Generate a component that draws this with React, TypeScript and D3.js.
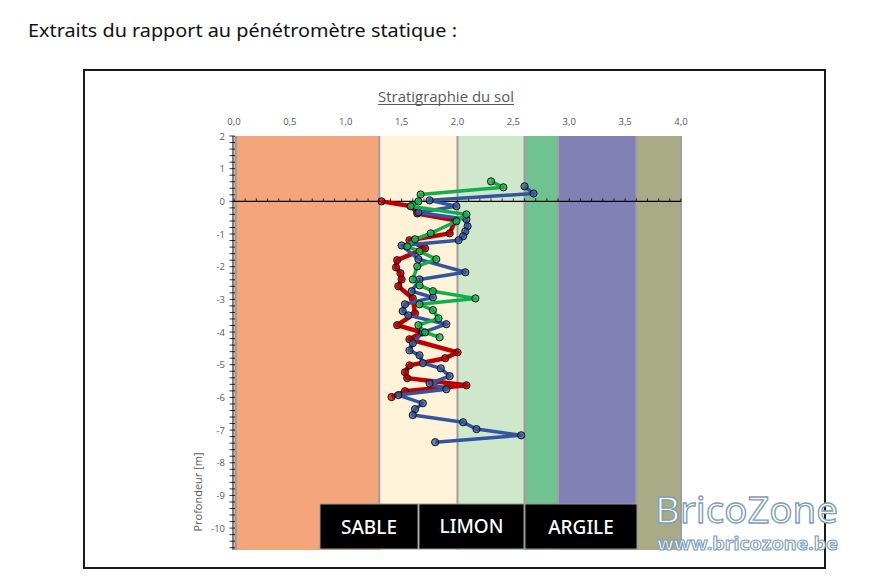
import React from "react";
import * as d3 from "d3";

const xTicks = [0, 0.5, 1, 1.5, 2, 2.5, 3, 3.5, 4];
const yTicks = [2, 1, 0, -1, -2, -3, -4, -5, -6, -7, -8, -9, -10];

const bandEdges = [0, 1.3, 2.0, 2.6, 2.9, 3.6, 4.0];
const bandColors = ["#F4A57B", "#FEF2D8", "#CFE8CC", "#70C291", "#8181B6", "#A8AB85"];

const soilLabels = ["SABLE", "LIMON", "ARGILE"];

const greenX = [2.30, 2.41, 1.67, 1.65, 1.58, 2.08, 1.99, 1.76, 1.62, 1.55, 1.66, 1.81, 1.64, 1.60, 1.66, 1.78, 2.16, 1.66, 1.78, 1.83, 1.65, 1.71, 1.84];
const greenY = [0.61, 0.43, 0.21, 0.0, -0.15, -0.40, -0.61, -0.98, -1.16, -1.38, -1.53, -1.77, -1.99, -2.39, -2.57, -2.75, -2.97, -3.15, -3.33, -3.58, -3.79, -4.01, -4.16];

const blueX = [2.60, 2.68, 1.75, 1.99, 1.65, 2.08, 2.09, 2.07, 2.05, 2.01, 1.50, 1.65, 2.07, 1.66, 1.59, 1.78, 1.53, 1.51, 1.56, 1.90, 1.69, 1.60, 1.57, 1.66, 1.69, 1.85, 1.93, 1.75, 1.90, 1.47, 1.69, 1.62, 1.60, 2.05, 2.17, 2.57, 1.80];
const blueY = [0.46, 0.24, 0.03, -0.15, -0.34, -0.55, -0.76, -0.92, -1.07, -1.19, -1.35, -1.77, -2.17, -2.39, -2.75, -2.94, -3.15, -3.36, -3.49, -3.76, -4.01, -4.34, -4.56, -4.71, -4.95, -5.11, -5.35, -5.57, -5.75, -5.93, -6.18, -6.36, -6.54, -6.76, -6.97, -7.16, -7.37];

const redX = [1.32, 1.59, 1.64, 1.98, 1.93, 1.57, 1.71, 1.46, 1.45, 1.49, 1.50, 1.47, 1.60, 1.62, 1.46, 1.68, 1.57, 2.00, 1.89, 1.57, 1.53, 1.55, 2.08, 1.53, 1.41];
const redY = [0.0, -0.15, -0.37, -0.58, -0.98, -1.19, -1.44, -1.80, -2.02, -2.20, -2.39, -2.60, -2.97, -3.43, -3.79, -4.01, -4.22, -4.62, -4.80, -5.02, -5.23, -5.41, -5.63, -5.81, -5.99];

const series = [
  { name: "red", color: "#C00000", xs: redX, ys: redY, width: 4.5 },
  { name: "blue", color: "#3255A0", xs: blueX, ys: blueY, width: 3.5 },
  { name: "green", color: "#12AE4E", xs: greenX, ys: greenY, width: 3.5 },
];

export default function App() {
  const x = d3.scaleLinear().domain([0, 4]).range([234, 681]);
  const y = d3.scaleLinear().domain([2, -10.67]).range([136, 550]);
  const line = d3
    .line<[number, number]>()
    .x((d) => x(d[0]))
    .y((d) => y(d[1]));

  const minorY = d3.range(10, -54, -1).map((v) => v / 5);
  const minorX = d3.range(0, 41, 1).map((v) => v / 10);

  const labelBoxes = [
    { x0: 320, x1: 418 },
    { x0: 419, x1: 524 },
    { x0: 525, x1: 637 },
  ];

  return (
    <svg
      width={891}
      height={588}
      style={{ position: "absolute", left: 0, top: 0, background: "#fff" }}
    >
      <text x={28} y={37} fontFamily="'Noto Sans', sans-serif" fontSize={18.5} fill="#111" textLength={429} lengthAdjust="spacingAndGlyphs">
        Extraits du rapport au pénétromètre statique :
      </text>

      <rect x={84} y={70} width={741} height={498} fill="#fff" stroke="#1a1a1a" strokeWidth={2} />

      <text x={446} y={102} textAnchor="middle" fontFamily="'Open Sans', sans-serif" fontSize={14} fill="#595959" textLength={136} lengthAdjust="spacingAndGlyphs">
        Stratigraphie du sol
      </text>
      <line x1={378} x2={514} y1={104.5} y2={104.5} stroke="#595959" strokeWidth={1} />

      {xTicks.map((t) => (
        <text key={t} x={x(t)} y={125} textAnchor="middle" fontFamily="'Open Sans', sans-serif" fontSize={9.5} fill="#595959">
          {t.toFixed(1).replace(".", ",")}
        </text>
      ))}

      {bandColors.map((c, i) => (
        <rect
          key={i}
          x={x(bandEdges[i])}
          y={y(2)}
          width={x(bandEdges[i + 1]) - x(bandEdges[i])}
          height={y(-10.67) - y(2)}
          fill={c}
        />
      ))}
      {bandEdges.map((e, i) => (
        <line key={i} x1={x(e) + (i === 0 ? 2 : 0)} x2={x(e) + (i === 0 ? 2 : 0)} y1={y(2)} y2={y(-10.67)} stroke="#9E9E9E" strokeWidth={2} />
      ))}

      {/* y axis */}
      <line x1={233} x2={233} y1={y(2)} y2={y(-10.67)} stroke="#000" strokeWidth={1} />
      {minorY.map((v, i) => (
        <line key={i} x1={229.5} x2={235} y1={y(v)} y2={y(v)} stroke="#000" strokeWidth={0.8} />
      ))}
      {yTicks.map((t) => (
        <text key={t} x={225} y={y(t) + 3.5} textAnchor="end" fontFamily="'Open Sans', sans-serif" fontSize={9.5} fill="#595959">
          {t}
        </text>
      ))}
      <text
        transform={`translate(202,492) rotate(-90)`}
        textAnchor="middle"
        fontFamily="'Open Sans', sans-serif"
        fontSize={11}
        fill="#595959"
      >
        Profondeur [m]
      </text>

      {/* x axis at 0 */}
      <line x1={233} x2={x(4)} y1={y(0)} y2={y(0)} stroke="#000" strokeWidth={1.2} />
      {minorX.map((v, i) => (
        <line key={i} x1={x(v)} x2={x(v)} y1={y(0) - 3} y2={y(0)} stroke="#000" strokeWidth={0.8} />
      ))}

      {series.map((s) => {
        const pts = s.xs.map((v, i) => [v, s.ys[i]] as [number, number]);
        return (
          <g key={s.name}>
            <path d={line(pts) || ""} fill="none" stroke={s.color} strokeWidth={s.width} strokeLinejoin="round" />
            {pts.map((p, i) => (
              <circle key={i} cx={x(p[0])} cy={y(p[1])} r={3.6} fill={s.color} fillOpacity={0.7} stroke="#111" strokeWidth={1} />
            ))}
          </g>
        );
      })}

      {labelBoxes.map((b, i) => (
        <g key={i}>
          <rect x={b.x0} y={504} width={b.x1 - b.x0} height={45} fill="#000" stroke="#9a9a9a" strokeWidth={1} />
          <text
            x={(b.x0 + b.x1) / 2}
            y={i === 1 ? 533 : 534}
            textAnchor="middle"
            fontFamily="'Noto Sans', sans-serif"
            fontWeight={500}
            fontSize={19}
            fill="#fff"
          >
            {soilLabels[i]}
          </text>
        </g>
      ))}

      <text x={655} y={523} fontFamily="'Noto Sans', sans-serif" fontSize={36} fill="#fff" stroke="#7D9DBB" strokeWidth={1.3} textLength={183} lengthAdjust="spacingAndGlyphs">
        BricoZone
      </text>
      <text x={657} y={550} fontFamily="'Noto Sans', sans-serif" fontWeight={700} fontSize={17} fill="#fff" stroke="#7D9DBB" strokeWidth={1} textLength={181} lengthAdjust="spacingAndGlyphs">
        www.bricozone.be
      </text>
    </svg>
  );
}
